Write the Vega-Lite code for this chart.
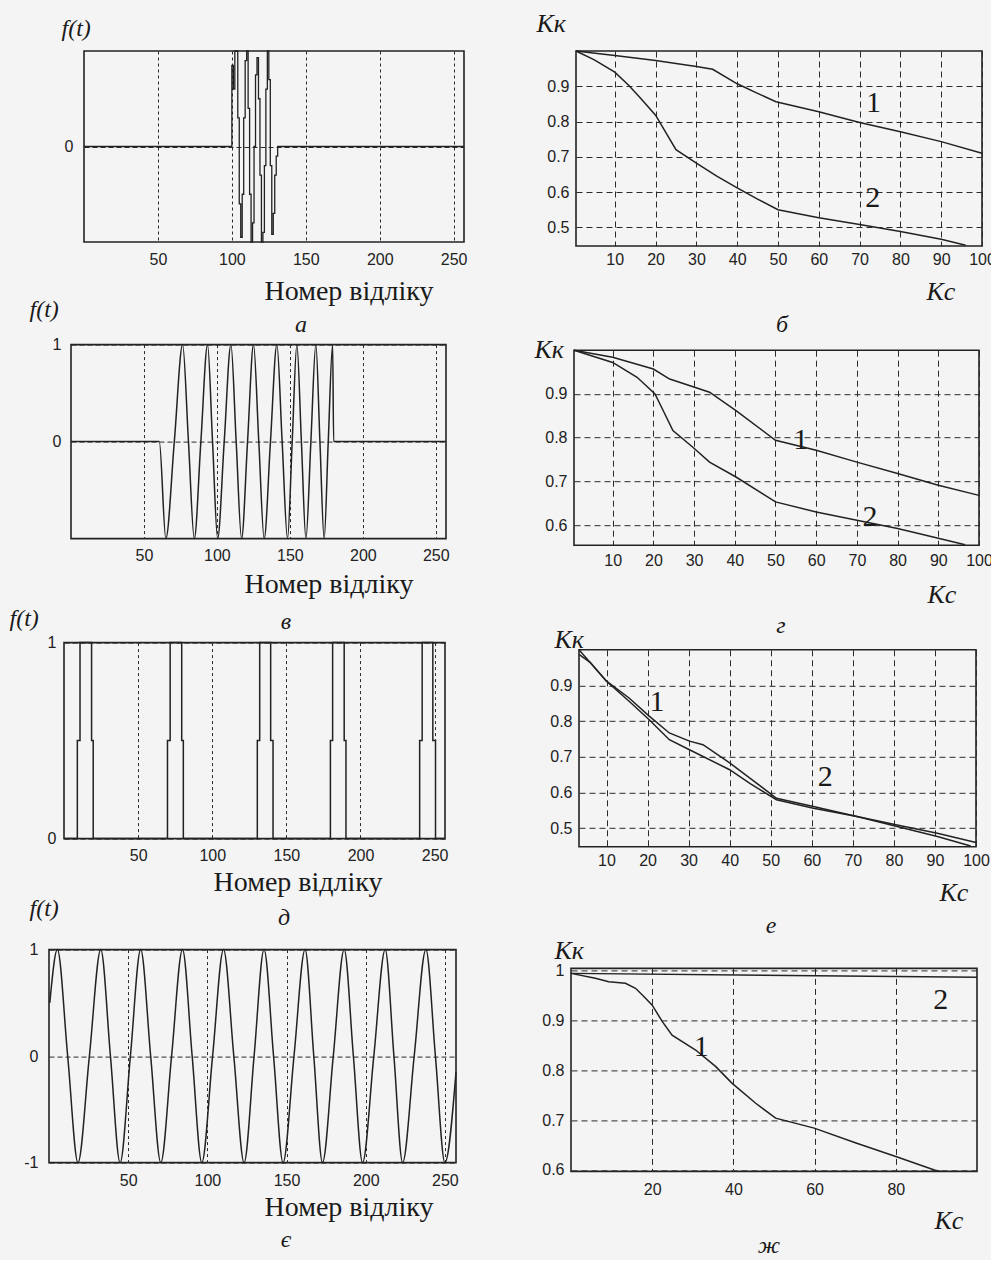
{
  "$schema": "https://vega.github.io/schema/vega-lite/v6.json",
  "background": "#f4f4f4",
  "padding": {"left": 0, "top": 9, "right": -3, "bottom": 0},
  "autosize": {"type": "pad"},
  "config": {
    "view": {"stroke": "#222222", "strokeWidth": 1.6},
    "axis": {
      "domain": false, "ticks": false, "grid": true,
      "gridColor": "#2b2b2b", "gridWidth": 1, "gridOpacity": 1,
      "labelFont": "Liberation Sans", "labelFontSize": 16, "labelColor": "#222222",
      "titleFont": "Liberation Serif", "titleFontWeight": "normal", "titleColor": "#1a1a1a",
      "labelFlush": false, "labelOverlap": false
    },
    "title": {"font": "Liberation Serif", "fontStyle": "italic", "fontWeight": "normal", "fontSize": 24, "color": "#1a1a1a", "baseline": "top"},
    "line": {"color": "#222222", "strokeWidth": 1.5},
    "text": {"font": "Liberation Serif", "fontSize": 30, "color": "#1a1a1a"}
  },
  "spacing": 50,
  "hconcat": [
    {
      "spacing": -41.4,
      "vconcat": [
        {
          "spacing": 0,
          "hconcat": [
            {"width": 43, "height": 1, "data": {"values": []}, "mark": "point", "view": {"stroke": null}},
            {
              "width": 380, "height": 191,
              "title": {"text": "а", "orient": "bottom", "anchor": "middle", "frame": "group", "dx": 27, "offset": 7.5},
              "data": {"values": [
                {"n": 0, "f": 0}, {"n": 100, "f": 0.85}, {"n": 101, "f": 0.6}, {"n": 102, "f": 1}, {"n": 103, "f": 1},
                {"n": 104, "f": 0.3}, {"n": 105, "f": -0.6}, {"n": 106, "f": -0.95}, {"n": 107, "f": -0.5}, {"n": 108, "f": 0.3},
                {"n": 109, "f": 0.9}, {"n": 110, "f": 1}, {"n": 111, "f": 0.4}, {"n": 112, "f": -0.5}, {"n": 113, "f": -1},
                {"n": 114, "f": -0.8}, {"n": 115, "f": 0}, {"n": 116, "f": 0.75}, {"n": 117, "f": 0.93}, {"n": 118, "f": 0.5},
                {"n": 119, "f": -0.3}, {"n": 120, "f": -1}, {"n": 121, "f": -0.9}, {"n": 122, "f": -0.2}, {"n": 123, "f": 0.6},
                {"n": 124, "f": 1}, {"n": 125, "f": 0.7}, {"n": 126, "f": -0.2}, {"n": 127, "f": -0.92}, {"n": 128, "f": -0.7},
                {"n": 129, "f": -0.3}, {"n": 130, "f": -0.1}, {"n": 131, "f": 0}, {"n": 257, "f": 0}
              ]},
              "mark": {"type": "line", "interpolate": "step-after", "strokeWidth": 1.3},
              "encoding": {
                "x": {"field": "n", "type": "quantitative", "scale": {"domain": [0, 257], "nice": false, "zero": false},
                  "axis": {"values": [50, 100, 150, 200, 250], "format": "d", "labelPadding": 9, "gridDash": [3, 3],
                    "title": "Номер відліку", "titleFontSize": 28, "titleX": 180, "titleY": 35.5, "titleAlign": "left", "titleBaseline": "top", "titleAngle": 0}},
                "y": {"field": "f", "type": "quantitative", "scale": {"domain": [-1, 1], "nice": false, "zero": false},
                  "axis": {"values": [0], "format": "d", "labelPadding": 11, "gridDash": [5, 3], "minExtent": 40,
                    "title": "f(t)", "titleFontSize": 24, "titleFontStyle": "italic", "titleAngle": 0, "titleX": -23, "titleY": -35, "titleAlign": "left", "titleBaseline": "top"}}
              }
            }
          ]
        },
        {
          "spacing": -29,
          "vconcat": [
            {
              "spacing": 0,
              "hconcat": [
                {"width": 24, "height": 1, "data": {"values": []}, "mark": "point", "view": {"stroke": null}},
                {
                  "width": 375, "height": 194,
                  "title": {"text": "в", "orient": "bottom", "anchor": "middle", "frame": "group", "dx": 27.5, "offset": 11.5},
                  "data": {"values": [
                    {"n": 0, "f": 0}, {"n": 60.5, "f": 0}, {"n": 65, "f": -1}, {"n": 70.8, "f": 0}, {"n": 76.5, "f": 1},
                    {"n": 80.5, "f": 0}, {"n": 84.5, "f": -1}, {"n": 89, "f": 0}, {"n": 93.6, "f": 1}, {"n": 97, "f": 0},
                    {"n": 100.5, "f": -1}, {"n": 105, "f": 0}, {"n": 109.6, "f": 1}, {"n": 113.2, "f": 0}, {"n": 116.9, "f": -1},
                    {"n": 121, "f": 0}, {"n": 125.1, "f": 1}, {"n": 128.7, "f": 0}, {"n": 132.4, "f": -1}, {"n": 136.7, "f": 0},
                    {"n": 141.1, "f": 1}, {"n": 144.7, "f": 0}, {"n": 148.4, "f": -1}, {"n": 151.6, "f": 0}, {"n": 154.8, "f": 1},
                    {"n": 157.9, "f": 0}, {"n": 161, "f": -1}, {"n": 164.4, "f": 0}, {"n": 167.8, "f": 1}, {"n": 170.6, "f": 0},
                    {"n": 173.5, "f": -1}, {"n": 176.3, "f": 0}, {"n": 179.3, "f": 1}, {"n": 180, "f": 0}, {"n": 257, "f": 0}
                  ]},
                  "mark": {"type": "line", "interpolate": "monotone"},
                  "encoding": {
                    "x": {"field": "n", "type": "quantitative", "scale": {"domain": [0, 257], "nice": false, "zero": false},
                      "axis": {"values": [50, 100, 150, 200, 250], "format": "d", "labelPadding": 9, "gridDash": [3, 3],
                        "title": "Номер відліку", "titleFontSize": 28, "titleX": 173, "titleY": 31.5, "titleAlign": "left", "titleBaseline": "top", "titleAngle": 0}},
                    "y": {"field": "f", "type": "quantitative", "scale": {"domain": [-1, 1], "nice": false, "zero": false},
                      "axis": {"values": [0, 1], "format": "d", "labelPadding": 10, "gridDash": [5, 3], "minExtent": 46,
                        "title": "f(t)", "titleFontSize": 24, "titleFontStyle": "italic", "titleAngle": 0, "titleX": -42, "titleY": -47, "titleAlign": "left", "titleBaseline": "top"}}
                  }
                }
              ]
            },
            {
              "spacing": -35,
              "vconcat": [
                {
                  "spacing": 0,
                  "hconcat": [
                    {"width": 7, "height": 1, "data": {"values": []}, "mark": "point", "view": {"stroke": null}},
                    {
                      "width": 381, "height": 196,
                      "title": {"text": "д", "orient": "bottom", "anchor": "middle", "frame": "group", "dx": 29.5, "offset": 9.5},
                      "data": {"values": [
                        {"n": 0, "f": 0}, {"n": 9, "f": 0.5}, {"n": 10.8, "f": 1}, {"n": 18.6, "f": 0.5}, {"n": 19.7, "f": 0},
                        {"n": 69.8, "f": 0.5}, {"n": 71.6, "f": 1}, {"n": 79.4, "f": 0.5}, {"n": 80.5, "f": 0},
                        {"n": 130.4, "f": 0.5}, {"n": 132, "f": 1}, {"n": 139.4, "f": 0.5}, {"n": 141, "f": 0},
                        {"n": 179.7, "f": 0.5}, {"n": 181.2, "f": 1}, {"n": 189, "f": 0.5}, {"n": 190.2, "f": 0},
                        {"n": 239.9, "f": 0.5}, {"n": 241.6, "f": 1}, {"n": 248.8, "f": 0.5}, {"n": 250.6, "f": 0}, {"n": 257, "f": 0}
                      ]},
                      "mark": {"type": "line", "interpolate": "step-after"},
                      "encoding": {
                        "x": {"field": "n", "type": "quantitative", "scale": {"domain": [0, 257], "nice": false, "zero": false},
                          "axis": {"values": [50, 100, 150, 200, 250], "format": "d", "labelPadding": 9, "gridDash": [3, 3],
                            "title": "Номер відліку", "titleFontSize": 28, "titleX": 149, "titleY": 29.5, "titleAlign": "left", "titleBaseline": "top", "titleAngle": 0}},
                        "y": {"field": "f", "type": "quantitative", "scale": {"domain": [0, 1], "nice": false, "zero": false},
                          "axis": {"values": [0, 1], "format": "d", "labelPadding": 8, "gridDash": [5, 3], "minExtent": 56,
                            "title": "f(t)", "titleFontSize": 24, "titleFontStyle": "italic", "titleAngle": 0, "titleX": -55, "titleY": -36, "titleAlign": "left", "titleBaseline": "top"}}
                      }
                    }
                  ]
                },
                {
                  "spacing": 0,
                  "hconcat": [
                    {"width": 8, "height": 1, "data": {"values": []}, "mark": "point", "view": {"stroke": null}},
                    {
                      "width": 407, "height": 213,
                      "title": {"text": "є", "orient": "bottom", "anchor": "middle", "frame": "group", "dx": 33.5, "offset": 6.5},
                      "data": {"values": [
                        {"n": 0.5, "f": 0.5}, {"n": 5.3, "f": 1}, {"n": 11.8, "f": 0}, {"n": 18.3, "f": -1}, {"n": 25.5, "f": 0},
                        {"n": 32.7, "f": 1}, {"n": 38.8, "f": 0}, {"n": 44.9, "f": -1}, {"n": 51.4, "f": 0}, {"n": 57.9, "f": 1},
                        {"n": 64.2, "f": 0}, {"n": 70.6, "f": -1}, {"n": 77.4, "f": 0}, {"n": 84.3, "f": 1}, {"n": 90.4, "f": 0},
                        {"n": 96.5, "f": -1}, {"n": 103.3, "f": 0}, {"n": 110.2, "f": 1}, {"n": 116.7, "f": 0}, {"n": 123.2, "f": -1},
                        {"n": 129.5, "f": 0}, {"n": 135.8, "f": 1}, {"n": 141.8, "f": 0}, {"n": 147.8, "f": -1}, {"n": 154.7, "f": 0},
                        {"n": 161.7, "f": 1}, {"n": 167.2, "f": 0}, {"n": 172.7, "f": -1}, {"n": 179.5, "f": 0}, {"n": 186.4, "f": 1},
                        {"n": 192.2, "f": 0}, {"n": 198, "f": -1}, {"n": 205.1, "f": 0}, {"n": 212.3, "f": 1}, {"n": 217.8, "f": 0},
                        {"n": 223.3, "f": -1}, {"n": 230.6, "f": 0}, {"n": 238, "f": 1}, {"n": 244, "f": 0}, {"n": 250, "f": -1},
                        {"n": 257, "f": -0.15}
                      ]},
                      "mark": {"type": "line", "interpolate": "monotone"},
                      "encoding": {
                        "x": {"field": "n", "type": "quantitative", "scale": {"domain": [0, 257], "nice": false, "zero": false},
                          "axis": {"values": [50, 100, 150, 200, 250], "format": "d", "labelPadding": 10, "gridDash": [3, 3],
                            "title": "Номер відліку", "titleFontSize": 28, "titleX": 215, "titleY": 30.5, "titleAlign": "left", "titleBaseline": "top", "titleAngle": 0}},
                        "y": {"field": "f", "type": "quantitative", "scale": {"domain": [-1, 1], "nice": false, "zero": false},
                          "axis": {"values": [-1, 0, 1], "format": "~g", "tickCount": 10, "labelExpr": "replace(datum.label, '−', '-')", "labelPadding": 11, "gridDash": [5, 3], "minExtent": 40,
                            "title": "f(t)", "titleFontSize": 24, "titleFontStyle": "italic", "titleAngle": 0, "titleX": -20, "titleY": -53, "titleAlign": "left", "titleBaseline": "top"}}
                      }
                    }
                  ]
                }
              ]
            }
          ]
        }
      ]
    },
    {
      "spacing": -2.8,
      "vconcat": [
        {
          "spacing": 0,
          "hconcat": [
            {"width": 12, "height": 1, "data": {"values": []}, "mark": "point", "view": {"stroke": null}},
            {
              "width": 406, "height": 195,
              "title": {"text": "б", "orient": "bottom", "anchor": "middle", "frame": "group", "dx": 3, "offset": 8.4},
              "encoding": {
                "x": {"field": "kc", "type": "quantitative", "scale": {"domain": [0.5, 100], "nice": false, "zero": false},
                  "axis": {"values": [10, 20, 30, 40, 50, 60, 70, 80, 90, 100], "format": "d", "labelPadding": 5, "gridDash": [6, 4],
                    "title": "Kс", "titleFontSize": 26, "titleFontStyle": "italic", "titleX": 350, "titleY": 32.6, "titleAlign": "left", "titleBaseline": "top", "titleAngle": 0}},
                "y": {"field": "kk", "type": "quantitative", "scale": {"domain": [0.447, 1], "nice": false, "zero": false},
                  "axis": {"values": [0.5, 0.6, 0.7, 0.8, 0.9], "format": "~g", "labelPadding": 7, "gridDash": [6, 4], "minExtent": 45,
                    "title": "Kк", "titleFontSize": 26, "titleFontStyle": "italic", "titleAngle": 0, "titleX": -40, "titleY": -40.4, "titleAlign": "left", "titleBaseline": "top"}}
              },
              "layer": [
                {
                  "data": {"values": [
                    {"kc": 0.5, "kk": 1.0, "c": "1"}, {"kc": 10, "kk": 0.987, "c": "1"}, {"kc": 20, "kk": 0.973, "c": "1"}, {"kc": 30, "kk": 0.956, "c": "1"},
                    {"kc": 34, "kk": 0.948, "c": "1"}, {"kc": 40, "kk": 0.907, "c": "1"}, {"kc": 45, "kk": 0.88, "c": "1"}, {"kc": 49.5, "kk": 0.856, "c": "1"},
                    {"kc": 60, "kk": 0.828, "c": "1"}, {"kc": 70, "kk": 0.797, "c": "1"}, {"kc": 80, "kk": 0.771, "c": "1"}, {"kc": 90, "kk": 0.743, "c": "1"},
                    {"kc": 100, "kk": 0.71, "c": "1"},
                    {"kc": 0.5, "kk": 1.0, "c": "2"}, {"kc": 5, "kk": 0.975, "c": "2"}, {"kc": 10, "kk": 0.94, "c": "2"}, {"kc": 13.4, "kk": 0.903, "c": "2"},
                    {"kc": 16, "kk": 0.87, "c": "2"}, {"kc": 20, "kk": 0.818, "c": "2"}, {"kc": 25, "kk": 0.72, "c": "2"}, {"kc": 30, "kk": 0.682, "c": "2"},
                    {"kc": 35, "kk": 0.645, "c": "2"}, {"kc": 40, "kk": 0.612, "c": "2"}, {"kc": 45, "kk": 0.58, "c": "2"}, {"kc": 50, "kk": 0.55, "c": "2"},
                    {"kc": 60, "kk": 0.527, "c": "2"}, {"kc": 70, "kk": 0.508, "c": "2"}, {"kc": 80, "kk": 0.488, "c": "2"}, {"kc": 90, "kk": 0.466, "c": "2"},
                    {"kc": 96, "kk": 0.449, "c": "2"}
                  ]},
                  "mark": {"type": "line"},
                  "encoding": {"detail": {"field": "c"}}
                },
                {
                  "data": {"values": [{"kc": 73.4, "kk": 0.852, "t": "1"}, {"kc": 73.2, "kk": 0.582, "t": "2"}]},
                  "mark": {"type": "text", "align": "center", "baseline": "middle"},
                  "encoding": {"text": {"field": "t"}}
                }
              ]
            }
          ]
        },
        {
          "spacing": -14.4,
          "vconcat": [
            {
              "spacing": 0,
              "hconcat": [
                {"width": 10, "height": 1, "data": {"values": []}, "mark": "point", "view": {"stroke": null}},
                {
                  "width": 405, "height": 195,
                  "title": {"text": "г", "orient": "bottom", "anchor": "middle", "frame": "group", "dx": 4.5, "offset": 6.4},
                  "encoding": {
                    "x": {"field": "kc", "type": "quantitative", "scale": {"domain": [0.5, 100], "nice": false, "zero": false},
                      "axis": {"values": [10, 20, 30, 40, 50, 60, 70, 80, 90, 100], "format": "d", "labelPadding": 7, "gridDash": [6, 4],
                        "title": "Kс", "titleFontSize": 26, "titleFontStyle": "italic", "titleX": 353, "titleY": 36.6, "titleAlign": "left", "titleBaseline": "top", "titleAngle": 0}},
                    "y": {"field": "kk", "type": "quantitative", "scale": {"domain": [0.554, 1], "nice": false, "zero": false},
                      "axis": {"values": [0.6, 0.7, 0.8, 0.9], "format": "~g", "labelPadding": 7, "gridDash": [6, 4], "minExtent": 45,
                        "title": "Kк", "titleFontSize": 26, "titleFontStyle": "italic", "titleAngle": 0, "titleX": -40, "titleY": -13.4, "titleAlign": "left", "titleBaseline": "top"}}
                  },
                  "layer": [
                    {
                      "data": {"values": [
                        {"kc": 0.5, "kk": 1.0, "c": "1"}, {"kc": 10, "kk": 0.984, "c": "1"}, {"kc": 20, "kk": 0.957, "c": "1"}, {"kc": 24, "kk": 0.934, "c": "1"},
                        {"kc": 30.5, "kk": 0.914, "c": "1"}, {"kc": 33.8, "kk": 0.904, "c": "1"}, {"kc": 40.3, "kk": 0.862, "c": "1"}, {"kc": 50, "kk": 0.794, "c": "1"},
                        {"kc": 60, "kk": 0.771, "c": "1"}, {"kc": 70, "kk": 0.744, "c": "1"}, {"kc": 80, "kk": 0.718, "c": "1"}, {"kc": 90, "kk": 0.691, "c": "1"},
                        {"kc": 100, "kk": 0.668, "c": "1"},
                        {"kc": 0.5, "kk": 1.0, "c": "2"}, {"kc": 10, "kk": 0.972, "c": "2"}, {"kc": 16, "kk": 0.938, "c": "2"}, {"kc": 20.4, "kk": 0.9, "c": "2"},
                        {"kc": 22.4, "kk": 0.862, "c": "2"}, {"kc": 24.8, "kk": 0.816, "c": "2"}, {"kc": 29.7, "kk": 0.778, "c": "2"}, {"kc": 33.8, "kk": 0.744, "c": "2"},
                        {"kc": 40.3, "kk": 0.71, "c": "2"}, {"kc": 50, "kk": 0.653, "c": "2"}, {"kc": 60, "kk": 0.63, "c": "2"}, {"kc": 70, "kk": 0.611, "c": "2"},
                        {"kc": 80, "kk": 0.592, "c": "2"}, {"kc": 90, "kk": 0.57, "c": "2"}, {"kc": 96.6, "kk": 0.555, "c": "2"}
                      ]},
                      "mark": {"type": "line"},
                      "encoding": {"detail": {"field": "c"}}
                    },
                    {
                      "data": {"values": [{"kc": 56.2, "kk": 0.794, "t": "1"}, {"kc": 73.2, "kk": 0.618, "t": "2"}]},
                      "mark": {"type": "text", "align": "center", "baseline": "middle"},
                      "encoding": {"text": {"field": "t"}}
                    }
                  ]
                }
              ]
            },
            {
              "spacing": -3.4,
              "vconcat": [
                {
                  "spacing": 0,
                  "hconcat": [
                    {"width": 15, "height": 1, "data": {"values": []}, "mark": "point", "view": {"stroke": null}},
                    {
                      "width": 397, "height": 197,
                      "title": {"text": "е", "orient": "bottom", "anchor": "middle", "frame": "group", "dx": -6.5, "offset": 8.4},
                      "encoding": {
                        "x": {"field": "kc", "type": "quantitative", "scale": {"domain": [3.3, 100], "nice": false, "zero": false},
                          "axis": {"values": [10, 20, 30, 40, 50, 60, 70, 80, 90, 100], "format": "d", "labelPadding": 6, "gridDash": [6, 4],
                            "title": "Kс", "titleFontSize": 26, "titleFontStyle": "italic", "titleX": 360, "titleY": 32.6, "titleAlign": "left", "titleBaseline": "top", "titleAngle": 0}},
                        "y": {"field": "kk", "type": "quantitative", "scale": {"domain": [0.448, 1], "nice": false, "zero": false},
                          "axis": {"values": [0.5, 0.6, 0.7, 0.8, 0.9], "format": "~g", "labelPadding": 7, "gridDash": [6, 4], "minExtent": 45,
                            "title": "Kк", "titleFontSize": 26, "titleFontStyle": "italic", "titleAngle": 0, "titleX": -25, "titleY": -23.4, "titleAlign": "left", "titleBaseline": "top"}}
                      },
                      "layer": [
                        {
                          "data": {"values": [
                            {"kc": 3.3, "kk": 1.0, "c": "1"}, {"kc": 10, "kk": 0.912, "c": "1"}, {"kc": 15.5, "kk": 0.865, "c": "1"}, {"kc": 20.4, "kk": 0.814, "c": "1"},
                            {"kc": 25.3, "kk": 0.767, "c": "1"}, {"kc": 30.2, "kk": 0.744, "c": "1"}, {"kc": 33.5, "kk": 0.734, "c": "1"}, {"kc": 40, "kk": 0.683, "c": "1"},
                            {"kc": 45, "kk": 0.64, "c": "1"}, {"kc": 51.4, "kk": 0.584, "c": "1"}, {"kc": 60.4, "kk": 0.561, "c": "1"}, {"kc": 71, "kk": 0.533, "c": "1"},
                            {"kc": 80.8, "kk": 0.509, "c": "1"}, {"kc": 90.6, "kk": 0.486, "c": "1"}, {"kc": 100, "kk": 0.46, "c": "1"},
                            {"kc": 3.3, "kk": 0.987, "c": "2"}, {"kc": 6, "kk": 0.965, "c": "2"}, {"kc": 10, "kk": 0.912, "c": "2"}, {"kc": 15.5, "kk": 0.856, "c": "2"},
                            {"kc": 20.4, "kk": 0.804, "c": "2"}, {"kc": 25.3, "kk": 0.748, "c": "2"}, {"kc": 30.2, "kk": 0.72, "c": "2"}, {"kc": 40, "kk": 0.664, "c": "2"},
                            {"kc": 45, "kk": 0.625, "c": "2"}, {"kc": 51.4, "kk": 0.58, "c": "2"}, {"kc": 60.4, "kk": 0.556, "c": "2"}, {"kc": 71, "kk": 0.533, "c": "2"},
                            {"kc": 80.8, "kk": 0.505, "c": "2"}, {"kc": 90.6, "kk": 0.477, "c": "2"}, {"kc": 98.7, "kk": 0.45, "c": "2"}
                          ]},
                          "mark": {"type": "line"},
                          "encoding": {"detail": {"field": "c"}}
                        },
                        {
                          "data": {"values": [{"kc": 22.3, "kk": 0.854, "t": "1"}, {"kc": 63.3, "kk": 0.643, "t": "2"}]},
                          "mark": {"type": "text", "align": "center", "baseline": "middle"},
                          "encoding": {"text": {"field": "t"}}
                        }
                      ]
                    }
                  ]
                },
                {
                  "spacing": 0,
                  "hconcat": [
                    {"width": 7, "height": 1, "data": {"values": []}, "mark": "point", "view": {"stroke": null}},
                    {
                      "width": 406, "height": 203,
                      "title": {"text": "ж", "orient": "bottom", "anchor": "middle", "frame": "group", "dx": -5, "offset": 1.4},
                      "encoding": {
                        "x": {"field": "kc", "type": "quantitative", "scale": {"domain": [0, 100], "nice": false, "zero": false},
                          "axis": {"values": [20, 40, 60, 80], "format": "d", "labelPadding": 10, "gridDash": [6, 4],
                            "title": "Kс", "titleFontSize": 26, "titleFontStyle": "italic", "titleX": 363, "titleY": 35.6, "titleAlign": "left", "titleBaseline": "top", "titleAngle": 0}},
                        "y": {"field": "kk", "type": "quantitative", "scale": {"domain": [0.597, 1.005], "nice": false, "zero": false},
                          "axis": {"values": [0.6, 0.7, 0.8, 0.9, 1], "format": "~g", "labelPadding": 7, "gridDash": [6, 4], "minExtent": 45,
                            "title": "Kк", "titleFontSize": 26, "titleFontStyle": "italic", "titleAngle": 0, "titleX": -17, "titleY": -31.4, "titleAlign": "left", "titleBaseline": "top"}}
                      },
                      "layer": [
                        {
                          "data": {"values": [
                            {"kc": 0, "kk": 0.995, "c": "1"}, {"kc": 6, "kk": 0.985, "c": "1"}, {"kc": 9.3, "kk": 0.978, "c": "1"}, {"kc": 13.4, "kk": 0.975, "c": "1"},
                            {"kc": 15.9, "kk": 0.965, "c": "1"}, {"kc": 18, "kk": 0.948, "c": "1"}, {"kc": 20, "kk": 0.931, "c": "1"}, {"kc": 22.5, "kk": 0.898, "c": "1"},
                            {"kc": 24.9, "kk": 0.871, "c": "1"}, {"kc": 30.7, "kk": 0.841, "c": "1"}, {"kc": 35.6, "kk": 0.808, "c": "1"}, {"kc": 39.7, "kk": 0.774, "c": "1"},
                            {"kc": 45.5, "kk": 0.734, "c": "1"}, {"kc": 50.4, "kk": 0.704, "c": "1"}, {"kc": 59.9, "kk": 0.684, "c": "1"}, {"kc": 70.2, "kk": 0.654, "c": "1"},
                            {"kc": 80, "kk": 0.627, "c": "1"}, {"kc": 89.5, "kk": 0.6, "c": "1"}, {"kc": 91, "kk": 0.597, "c": "1"},
                            {"kc": 0, "kk": 0.995, "c": "2"}, {"kc": 100, "kk": 0.987, "c": "2"}
                          ]},
                          "mark": {"type": "line"},
                          "encoding": {"detail": {"field": "c"}}
                        },
                        {
                          "data": {"values": [{"kc": 32.1, "kk": 0.848, "t": "1"}, {"kc": 91.1, "kk": 0.941, "t": "2"}]},
                          "mark": {"type": "text", "align": "center", "baseline": "middle"},
                          "encoding": {"text": {"field": "t"}}
                        }
                      ]
                    }
                  ]
                }
              ]
            }
          ]
        }
      ]
    }
  ]
}
